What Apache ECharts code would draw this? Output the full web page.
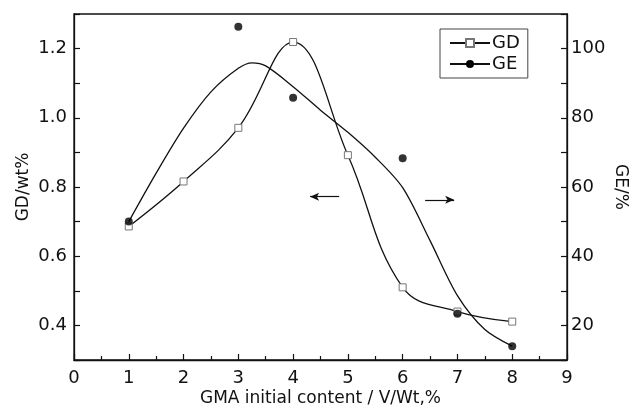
<!DOCTYPE html>
<html>
<head>
<meta charset="utf-8">
<script src="https://cdn.jsdelivr.net/npm/echarts@6/dist/echarts.min.js"></script>
<style>
  html, body { margin: 0; padding: 0; background: #fff; }
  #chart { width: 632px; height: 411px; }
</style>
</head>
<body>
<div id="chart"></div>
<script>
// GMA content (x) and measured values
const xValues = [1, 2, 3, 4, 5, 6, 7, 8];
const gdValues = [0.686, 0.816, 0.971, 1.219, 0.892, 0.510, 0.440, 0.411];
const geX = [1, 3, 4, 6, 7, 8];
const geValues = [50.0, 106.3, 85.8, 68.3, 23.4, 14.0];
// fitted GE curve
const geFitX = [1, 1.5, 2, 2.5, 3, 3.25, 3.5, 4, 4.5, 5, 5.5, 6, 6.5, 7, 7.5, 8];
const geFitValues = [50.0, 64.0, 77.0, 87.5, 94.3, 95.9, 95.0, 89.0, 82.2, 75.8, 68.6, 59.8, 44.5, 28.6, 18.8, 14.0];
// arrows pointing to each axis: [x from, x to, y]
const gdArrow = [4.84, 4.31, 0.772];
const geArrow = [6.41, 6.94, 56.3];

const font = "'DejaVu Sans', 'Liberation Sans', sans-serif";
const ink = "#111";

function pairs(xs, ys) {
    return xs.map((x, i) => [x, ys[i]]);
}

function arrow(a) {
    return {
        silent: true,
        symbol: ["none", "arrow"],
        symbolSize: [6, 9],
        label: { show: false },
        lineStyle: { color: ink, width: 1.2, type: "solid" },
        data: [[{ coord: [a[0], a[2]] }, { coord: [a[1], a[2]] }]]
    };
}

const chart = echarts.init(document.getElementById("chart"));

chart.setOption({
    animation: false,
    textStyle: { fontFamily: font, color: ink },
    grid: {
        left: 74, right: 65, top: 14, bottom: 51,
        outerBoundsMode: "none",
        containLabel: false,
        show: true, borderColor: ink, borderWidth: 1.3, backgroundColor: "transparent"
    },
    legend: {
        left: 440, top: 29,
        orient: "vertical",
        data: ["GD", "GE"],
        itemWidth: 40, itemHeight: 10, itemGap: 3,
        padding: [5, 8, 5, 9],
        borderColor: "#444", borderWidth: 1,
        textStyle: { fontSize: 18, fontFamily: font, color: ink, padding: [0, 0, 0, -3] }
    },
    xAxis: {
        type: "value",
        min: 0, max: 9, interval: 1,
        name: "GMA initial content / V/Wt,%",
        nameLocation: "middle",
        nameGap: 30,
        nameMoveOverlap: false,
        nameTextStyle: { fontSize: 17, fontFamily: font, color: ink },
        axisLine: { lineStyle: { color: ink, width: 1.3 } },
        axisTick: { inside: true, length: 6, lineStyle: { color: ink, width: 1.2 } },
        minorTick: { show: true, splitNumber: 2, length: 4, lineStyle: { color: ink, width: 1.2 } },
        axisLabel: { fontSize: 18, margin: 9, color: ink, fontFamily: font },
        splitLine: { show: false }
    },
    yAxis: [{
        type: "value",
        min: 0.3, max: 1.3, interval: 0.1,
        name: "GD/wt%",
        nameLocation: "middle",
        nameGap: 42,
        nameMoveOverlap: false,
        nameTextStyle: { fontSize: 17, fontFamily: font, color: ink },
        axisLine: { show: true, lineStyle: { color: ink, width: 1.3 } },
        axisTick: { inside: true, length: 6, lineStyle: { color: ink, width: 1.2 } },
        axisLabel: {
            fontSize: 18, margin: 7, color: ink, fontFamily: font,
            formatter: v => Math.round(v * 10) % 2 === 0 ? v.toFixed(1) : ""
        },
        splitLine: { show: false }
    }, {
        type: "value",
        position: "right",
        min: 10, max: 110, interval: 10,
        name: "GE/%",
        nameLocation: "middle",
        nameGap: 45,
        nameRotate: -90,
        nameMoveOverlap: false,
        nameTextStyle: { fontSize: 17, fontFamily: font, color: ink },
        axisLine: { show: true, lineStyle: { color: ink, width: 1.3 } },
        axisTick: { inside: true, length: 6, lineStyle: { color: ink, width: 1.2 } },
        axisLabel: {
            fontSize: 18, margin: 4, color: ink, fontFamily: font,
            padding: [14, 0, 0, 0],
            formatter: v => v % 20 === 0 && v > 10 && v < 110 ? String(v) : ""
        },
        splitLine: { show: false }
    }],
    series: [{
        name: "GD",
        type: "line",
        yAxisIndex: 0,
        data: pairs(xValues, gdValues),
        smooth: 0.4,
        symbol: "rect",
        symbolSize: 7,
        lineStyle: { color: ink, width: 1.3 },
        itemStyle: { color: "#fff", borderColor: "#777", borderWidth: 1 },
        z: 3,
        markLine: arrow(gdArrow)
    }, {
        name: "GE",
        type: "line",
        yAxisIndex: 1,
        data: pairs(geFitX, geFitValues),
        smooth: 0.3,
        symbol: "circle",
        symbolSize: 9,
        showSymbol: false,
        lineStyle: { color: ink, width: 1.3 },
        itemStyle: { color: "#000" },
        z: 2,
        markLine: arrow(geArrow)
    }, {
        name: "GE points",
        type: "scatter",
        yAxisIndex: 1,
        data: pairs(geX, geValues),
        symbol: "circle",
        symbolSize: 8,
        itemStyle: { color: "#000" },
        z: 4
    }]
});
</script>
</body>
</html>
